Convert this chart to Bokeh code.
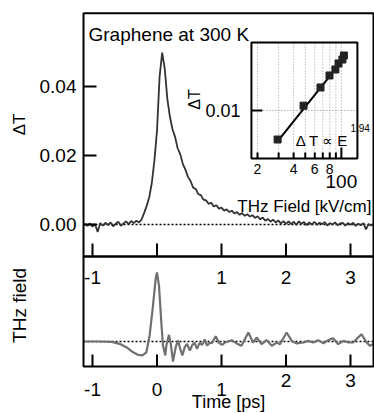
import numpy as np
from bokeh.plotting import figure
from bokeh.models import Range1d, LogScale
from bokeh.core.properties import value
from bokeh.embed import file_html
from bokeh.resources import INLINE

# ---------------- data ----------------
# pump-probe transmission change (x 1e-3), sampled every 0.04 ps from -1.12 ps
pump_t0 = -1.12
pump_step = 0.04
dT_e3 = [0.2, -0.4, 0.3, -0.6, 0.1, -2.2, 0.4, -0.3, 0.5, -0.2,
         0.6, -0.5, 0.2, 0.8, -0.4, 0.3, 0.9, 0.1, 1.0, 0.4,
         1.1, 0.6, 1.4, 3.3, 5.4, 7.9, 12.1, 18.6, 27.2, 42.8,
         49.8, 45.2, 36.4, 31.3, 27.6, 25.4, 22.1, 20.4, 17.6, 15.9,
         13.8, 12.6, 10.7, 10.3, 8.8, 8.5, 7.2, 7.0, 6.0, 6.3,
         5.2, 5.6, 4.6, 4.9, 4.0, 4.4, 3.6, 4.0, 3.2, 3.6,
         2.8, 3.3, 2.5, 3.0, 2.3, 2.7, 1.9, 2.4, 1.5, 2.0,
         1.1, 1.6, 0.8, 1.4, 0.6, 1.2, 0.3, 1.0, 0.2, 0.9,
         0.1, 0.8, -0.1, 0.9, 0.2, 0.7, -0.2, 0.6, 0.0, 0.8,
         -0.1, 0.5, 0.1, 0.7, -0.3, 0.4, 0.0, 0.6, -0.2, 0.3,
         0.5, -0.3, 0.4, -0.1, 0.5, -0.4, 0.2, -0.2, 0.4, -1.4,
         0.1, -0.3, 0.2]

# THz field waveform
thz_t = [-1.14, -0.9, -0.7, -0.58, -0.475, -0.37, -0.295, -0.227, -0.165, -0.114,
         -0.062, -0.021, 0.0, 0.031, 0.067, 0.093, 0.129, 0.145, 0.186, 0.217,
         0.248, 0.29, 0.326, 0.36, 0.393, 0.43, 0.465, 0.51, 0.548, 0.584,
         0.62, 0.66, 0.70, 0.74, 0.775, 0.82, 0.857, 0.91, 0.96, 1.01,
         1.054, 1.157, 1.235, 1.31, 1.416, 1.49, 1.545, 1.62, 1.70, 1.78,
         1.855, 1.907, 2.01, 2.09, 2.165, 2.27, 2.345, 2.42, 2.50, 2.58,
         2.655, 2.73, 2.81, 2.89, 2.97, 3.04, 3.17, 3.25, 3.30, 3.36]
thz_field = [0.0, 0.0, -0.005, -0.037, -0.09, -0.17, -0.21, -0.22, -0.17, 0.095,
             0.57, 0.99, 1.09, 0.88, 0.30, -0.063, -0.22, -0.063, 0.105, -0.063,
             -0.316, -0.09, 0.016, -0.116, -0.22, -0.09, -0.037, -0.142, -0.053, -0.021,
             -0.116, -0.021, -0.053, 0.032, -0.063, -0.021, -0.021, 0.084, -0.021, -0.053,
             -0.016, 0.021, -0.03, -0.068, 0.142, -0.016, 0.063, -0.042, 0.021, -0.068,
             -0.016, -0.042, 0.142, 0.01, -0.03, -0.016, 0.01, -0.016, 0.021, -0.03,
             0.021, 0.052, -0.042, 0.01, -0.016, -0.016, 0.116, -0.016, -0.068, -0.04]

# inset: peak dT vs THz field
inset_field = [29.4, 48.4, 67.0, 79.6, 89.2, 94.7, 102.0, 105.0]
inset_dT = [0.00434, 0.0115, 0.0194, 0.0274, 0.0326, 0.0387, 0.0434, 0.0487]
fit_field = [29.4, 108.0]
fit_dT = [0.0041, 0.0473]

# ticks / labels
time_ticks = [-1, 0, 1, 2, 3]
time_labels = ["-1", "0", "1", "2", "3"]
time_labels_mid = ["-1", "", "1", "2", "3"]
dT_ticks = [0.0, 0.02, 0.04]
dT_labels = ["0.00", "0.02", "0.04"]
inset_grid_x = [20, 30, 40, 50, 60, 70, 80, 90, 100]
inset_short_ticks = [20, 30, 40, 50, 60, 70, 80, 90]
inset_long_ticks = [100]
inset_label_x = [20, 40, 60, 80]
inset_label_txt = ["2", "4", "6", "8"]
inset_y_tick = [0.01]

# axis limits of the panels
T_LO, T_HI = -1.1395, 3.3566
TOP_PANEL = (-0.0093, 0.0612)          # upper panel ΔT limits
BOT_PANEL = (-0.395, 1.3428)           # lower panel THz-field limits
INS_BOX_X = (17.8, 136.0)              # inset field limits (kV/cm)
INS_BOX_Y = (0.00251, 0.0708)          # inset ΔT limits
# ranges spanning the whole canvas
CANVAS_T = (-2.4264, 3.3721)
CANVAS_TOP = (-0.054783, 0.064928)
CANVAS_BOT = (-1.1374, 5.3870)
CANVAS_INS_X = (0.14432, 188.81)
CANVAS_INS_Y = (1.6313e-6, 0.23714)

FV = value("Liberation Sans")
BLACK = "black"

# ---------------- figure ----------------
p = figure(width=374, height=413, output_backend="svg", toolbar_location=None,
           x_range=Range1d(*CANVAS_T), y_range=Range1d(*CANVAS_TOP),
           x_axis_type=None, y_axis_type=None,
           min_border_left=0, min_border_right=0, min_border_top=0, min_border_bottom=0)
p.extra_y_ranges = {"bot": Range1d(*CANVAS_BOT), "ins": Range1d(*CANVAS_INS_Y)}
p.extra_x_ranges = {"ins": Range1d(*CANVAS_INS_X)}
p.extra_x_scales = {"ins": LogScale()}
p.extra_y_scales = {"ins": LogScale()}
p.grid.visible = False
p.outline_line_color = None
p.background_fill_color = "white"
p.border_fill_color = "white"

# zero lines (dotted) inside panels
p.segment(x0=[T_LO], x1=[T_HI], y0=[0], y1=[0], line_color=BLACK, line_width=1.5,
          line_dash="2 2")
p.segment(x0=[T_LO], x1=[T_HI], y0=[0], y1=[0], y_range_name="bot", line_color=BLACK,
          line_width=1.5, line_dash="2 2")

# traces
t_pump = pump_t0 + pump_step * np.arange(len(dT_e3))
dT = np.array(dT_e3) * 1e-3
p.line(t_pump, dT, line_color="#333333", line_width=1.8)
p.line(thz_t, thz_field, y_range_name="bot", line_color="#707070", line_width=2.2)

# panel frames
p.quad(left=[T_LO], right=[T_HI], bottom=[TOP_PANEL[0]], top=[TOP_PANEL[1]],
       fill_color=None, line_color=BLACK, line_width=2)
p.quad(left=[T_LO], right=[T_HI], bottom=[BOT_PANEL[0]], top=[BOT_PANEL[1]],
       y_range_name="bot", fill_color=None, line_color=BLACK, line_width=2)

# upper panel: ΔT ticks (inside) and labels
p.ray(x=[T_LO] * len(dT_ticks), y=dT_ticks, length=13, length_units="screen", angle=0,
      line_color=BLACK, line_width=2)
p.text(x=[T_LO] * len(dT_ticks), y=dT_ticks, text=dT_labels, x_offset=-7,
       text_align="right", text_baseline="middle", text_font=FV, text_font_size="19px",
       text_color=BLACK)
# upper panel: time ticks along its lower edge
p.ray(x=time_ticks, y=[TOP_PANEL[0]] * len(time_ticks), length=13, length_units="screen",
      angle=np.pi / 2, line_color=BLACK, line_width=2)
p.text(x=time_ticks, y=[TOP_PANEL[0]] * len(time_ticks), text=time_labels_mid,
       text_align="center", text_baseline="middle", y_offset=21,
       text_font=FV, text_font_size="19px", text_color=BLACK)

# lower panel: time ticks and labels
p.ray(x=time_ticks, y=[BOT_PANEL[0]] * len(time_ticks), length=12, length_units="screen",
      angle=np.pi / 2, y_range_name="bot", line_color=BLACK, line_width=2)
p.text(x=time_ticks[:3], y=[BOT_PANEL[0]] * 3, text=time_labels[:3], y_range_name="bot",
       text_align="center", text_baseline="middle", y_offset=23,
       text_font=FV, text_font_size="19px", text_color=BLACK)
p.text(x=time_ticks[3:], y=[BOT_PANEL[0]] * 2, text=time_labels[3:], y_range_name="bot",
       text_align="center", text_baseline="middle", y_offset=14,
       text_font=FV, text_font_size="19px", text_color=BLACK)

# axis titles
p.text(x=[T_LO], y=[0.029], text=["ΔT"], angle=np.pi / 2, x_offset=-64,
       text_align="center", text_baseline="middle", text_font=FV, text_font_size="17px",
       text_color=BLACK)
p.text(x=[T_LO], y=[0.57], text=["THz field"], y_range_name="bot", angle=np.pi / 2,
       x_offset=-64, text_align="center", text_baseline="middle", text_font=FV,
       text_font_size="19px", text_color=BLACK)
p.text(x=[(T_LO + T_HI) / 2], y=[BOT_PANEL[0]], text=["Time [ps]"], y_range_name="bot",
       y_offset=35, text_align="center", text_baseline="middle", text_font=FV,
       text_font_size="18px", text_color=BLACK)

# title text
p.text(x=[T_LO], y=[TOP_PANEL[1]], text=["Graphene at 300 K"], x_offset=5, y_offset=21,
       text_align="left", text_baseline="alphabetic", text_font=FV, text_font_size="19px",
       text_color=BLACK)

# ---------------- inset ----------------
p.quad(left=[INS_BOX_X[0]], right=[INS_BOX_X[1]], bottom=[INS_BOX_Y[0]], top=[INS_BOX_Y[1]],
       x_range_name="ins", y_range_name="ins", fill_color="white", line_color=None)
p.segment(x0=inset_grid_x, x1=inset_grid_x, y0=[INS_BOX_Y[0]] * len(inset_grid_x),
          y1=[INS_BOX_Y[1]] * len(inset_grid_x), x_range_name="ins", y_range_name="ins",
          line_color="#9a9a9a", line_width=1, line_dash="1 2")
p.segment(x0=[INS_BOX_X[0]], x1=[INS_BOX_X[1]], y0=inset_y_tick, y1=inset_y_tick,
          x_range_name="ins", y_range_name="ins", line_color="#8a8a8a", line_width=1,
          line_dash="1 2")
p.quad(left=[INS_BOX_X[0]], right=[INS_BOX_X[1]], bottom=[INS_BOX_Y[0]], top=[INS_BOX_Y[1]],
       x_range_name="ins", y_range_name="ins", fill_color=None, line_color=BLACK,
       line_width=2)
p.ray(x=inset_short_ticks, y=[INS_BOX_Y[0]] * len(inset_short_ticks), length=6,
      length_units="screen", angle=np.pi / 2, x_range_name="ins", y_range_name="ins",
      line_color=BLACK, line_width=2)
p.ray(x=inset_long_ticks, y=[INS_BOX_Y[0]], length=11, length_units="screen",
      angle=np.pi / 2, x_range_name="ins", y_range_name="ins", line_color=BLACK, line_width=2)
p.ray(x=[INS_BOX_X[0]], y=inset_y_tick, length=11, length_units="screen", angle=0,
      x_range_name="ins", y_range_name="ins", line_color=BLACK, line_width=2)
p.line(fit_field, fit_dT, x_range_name="ins", y_range_name="ins", line_color=BLACK,
       line_width=2)
p.scatter(inset_field, inset_dT, x_range_name="ins", y_range_name="ins", marker="square",
          size=7, fill_color="#222222", line_color="#222222")

p.text(x=inset_label_x, y=[INS_BOX_Y[0]] * len(inset_label_x), text=inset_label_txt,
       x_range_name="ins", y_range_name="ins", text_align="center", text_baseline="middle",
       y_offset=10, text_font=FV, text_font_size="14px", text_color=BLACK)
p.text(x=inset_long_ticks, y=[INS_BOX_Y[0]], text=["100"], x_range_name="ins",
       y_range_name="ins", text_align="center", text_baseline="middle", y_offset=23,
       text_font=FV, text_font_size="19px", text_color=BLACK)
p.text(x=[np.sqrt(INS_BOX_X[0] * INS_BOX_X[1])], y=[INS_BOX_Y[0]], text=["THz Field [kV/cm]"],
       x_range_name="ins", y_range_name="ins", text_align="center", text_baseline="alphabetic",
       y_offset=48, text_font=FV, text_font_size="17px", text_color=BLACK)
p.text(x=[INS_BOX_X[0]], y=inset_y_tick, text=["0.01"], x_range_name="ins", y_range_name="ins",
       text_align="right", text_baseline="middle", x_offset=-11, text_font=FV,
       text_font_size="18px", text_color=BLACK)
p.text(x=[INS_BOX_X[0]], y=inset_y_tick, text=["ΔT"], x_range_name="ins", y_range_name="ins",
       angle=np.pi / 2, text_align="center", text_baseline="middle", x_offset=-57, y_offset=-11,
       text_font=FV, text_font_size="16px", text_color=BLACK)
p.text(x=[INS_BOX_X[1]], y=[INS_BOX_Y[0]], text=["Δ T ∝ E"], x_range_name="ins",
       y_range_name="ins", text_align="right", text_baseline="alphabetic", x_offset=-9,
       y_offset=-18, text_font=FV, text_font_size="15px", text_color=BLACK)
p.text(x=[INS_BOX_X[1]], y=[INS_BOX_Y[0]], text=["1.94"], x_range_name="ins",
       y_range_name="ins", text_align="left", text_baseline="alphabetic", x_offset=-7,
       y_offset=-31, text_font=FV, text_font_size="10px", text_color=BLACK)

open("out.html", "w").write(file_html(p, INLINE))
